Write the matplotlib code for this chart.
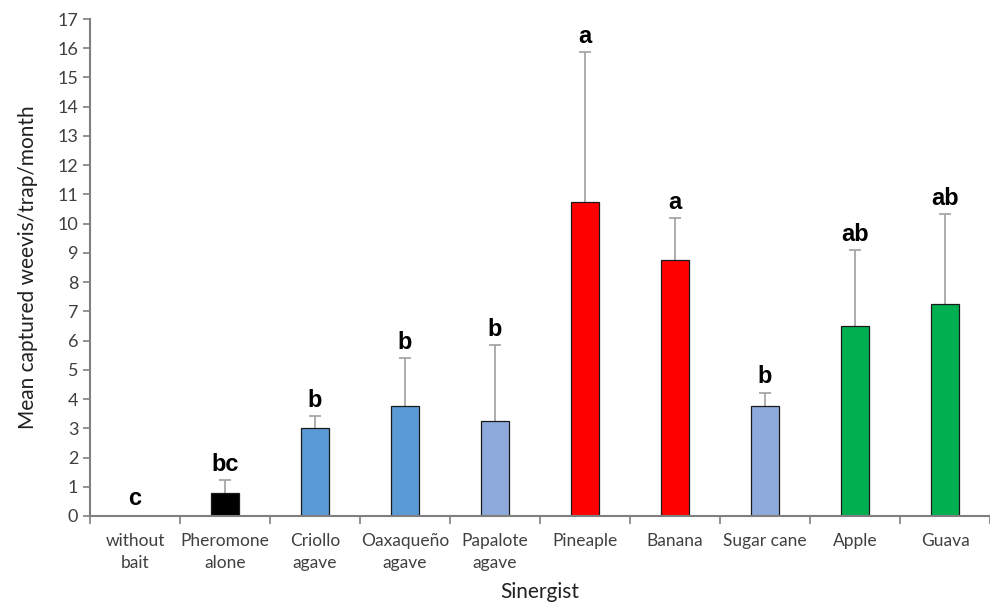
import matplotlib
matplotlib.use("Agg")
import matplotlib.pyplot as plt
import numpy as np

categories = ["without\nbait", "Pheromone\nalone", "Criollo\nagave", "Oaxaqueño\nagave",
              "Papalote\nagave", "Pineaple", "Banana", "Sugar cane", "Apple", "Guava"]
means = [0.0, 0.77, 3.0, 3.76, 3.25, 10.73, 8.76, 3.76, 6.51, 7.24]
err_top = [0.0, 1.22, 3.42, 5.40, 5.85, 15.88, 10.19, 4.22, 9.10, 10.33]
letters = ["c", "bc", "b", "b", "b", "a", "a", "b", "ab", "ab"]
colors = ["#000000", "#000000", "#5B9BD5", "#5B9BD5", "#8EA9DB",
          "#FF0000", "#FF0000", "#8EA9DB", "#00B050", "#00B050"]

plt.rcParams['font.family'] = ['Lato', 'DejaVu Sans']

fig = plt.figure(figsize=(9.9, 6.05), dpi=100)
ax = fig.add_axes([90/990, 1 - 516/605, 900/990, (516-19)/605])

x = np.arange(len(categories))
errs = np.array(err_top) - np.array(means)
ax.bar(x, means, width=0.32, color=colors, edgecolor="#1a1a1a", linewidth=0.9, zorder=2)
eb = ax.errorbar(x[1:], np.array(means)[1:], yerr=[np.zeros(len(x)-1), errs[1:]], fmt="none",
                 ecolor="#A0A0A0", elinewidth=1.2, capsize=4, capthick=1.2, zorder=1)
# keep only the upper caps
eb[1][0].set_visible(False)

for xi, top, lab in zip(x, err_top, letters):
    ax.annotate(lab, (xi, top), xytext=(0, 4 if top == 0 else 3), textcoords="offset points",
                ha="center", va="bottom", fontsize=17, fontweight="bold",
                family=["Liberation Sans", "DejaVu Sans"])

ax.set_ylim(0, 17)
ax.set_xlim(-0.5, -0.5 + 900/91)
ax.set_yticks(range(0, 18))
ax.set_xticks(x)
ax.set_xticklabels(categories, fontsize=12.5, color="#404040", linespacing=1.45)
ax.set_xticks(np.arange(-0.5, 9.6, 1.0), minor=True)
ax.tick_params(axis="x", which="major", length=0, pad=12)
ax.tick_params(axis="x", which="minor", length=6, width=1.2, color="#7f7f7f", direction="out")
ax.tick_params(axis="y", length=5, width=1.2, color="#7f7f7f", labelsize=13, labelcolor="#404040")

for s in ["top", "right"]:
    ax.spines[s].set_visible(False)
for s in ["left", "bottom"]:
    ax.spines[s].set_color("#7f7f7f")
    ax.spines[s].set_linewidth(1.5)

ax.set_ylabel("Mean captured weevis/trap/month", fontsize=15, color="#202020", labelpad=14)
ax.set_xlabel("Sinergist", fontsize=15, color="#202020", labelpad=8)

fig.savefig("out.png", dpi=100)
